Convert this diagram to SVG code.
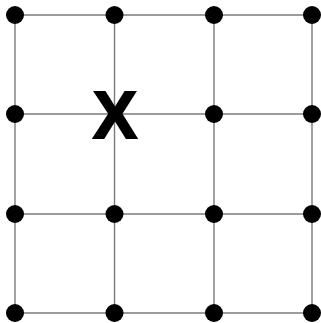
<svg xmlns="http://www.w3.org/2000/svg" width="321" height="323" viewBox="0 0 321 323">
<style>
.ln{stroke:#7a7a7a;stroke-width:1.4;fill:none}
.dot{fill:#000}
.lbl{font-family:"Liberation Sans",Arial,sans-serif;font-weight:bold;font-size:66px;fill:#000;stroke:#000;stroke-width:2;stroke-linejoin:miter}
</style>
<rect width="321" height="323" fill="#fff"/>
<g id="connectors">
<line class="ln" x1="15" y1="15" x2="312" y2="15"/>
<line class="ln" x1="15" y1="114" x2="312" y2="114"/>
<line class="ln" x1="15" y1="214" x2="312" y2="214"/>
<line class="ln" x1="15" y1="313" x2="312" y2="313"/>
<line class="ln" x1="15" y1="15" x2="15" y2="313"/>
<line class="ln" x1="114.5" y1="15" x2="114.5" y2="313"/>
<line class="ln" x1="214" y1="15" x2="214" y2="313"/>
<line class="ln" x1="312" y1="15" x2="312" y2="313"/>
</g>
<g id="n00"><circle class="dot" cx="15" cy="15" r="9"/></g>
<g id="n10"><circle class="dot" cx="114.5" cy="15" r="9"/></g>
<g id="n20"><circle class="dot" cx="214" cy="15" r="9"/></g>
<g id="n30"><circle class="dot" cx="312" cy="15" r="9"/></g>
<g id="n01"><circle class="dot" cx="15" cy="114" r="9"/></g>
<g id="n11"><text class="lbl" x="115" y="137.5" text-anchor="middle">X</text></g>
<g id="n21"><circle class="dot" cx="214" cy="114" r="9"/></g>
<g id="n31"><circle class="dot" cx="312" cy="114" r="9"/></g>
<g id="n02"><circle class="dot" cx="15" cy="214" r="9"/></g>
<g id="n12"><circle class="dot" cx="114.5" cy="214" r="9"/></g>
<g id="n22"><circle class="dot" cx="214" cy="214" r="9"/></g>
<g id="n32"><circle class="dot" cx="312" cy="214" r="9"/></g>
<g id="n03"><circle class="dot" cx="15" cy="313" r="9"/></g>
<g id="n13"><circle class="dot" cx="114.5" cy="313" r="9"/></g>
<g id="n23"><circle class="dot" cx="214" cy="313" r="9"/></g>
<g id="n33"><circle class="dot" cx="312" cy="313" r="9"/></g>
</svg>
